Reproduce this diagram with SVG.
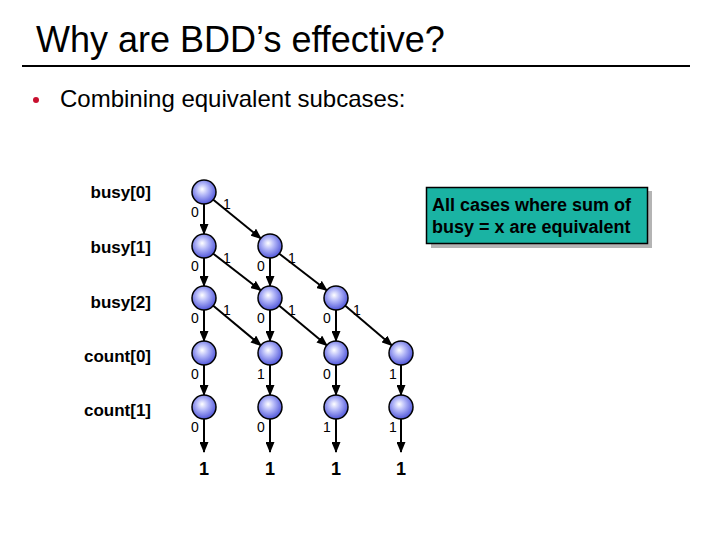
<svg xmlns="http://www.w3.org/2000/svg" width="720" height="540" viewBox="0 0 720 540">
<style>
.t{font-family:"Liberation Sans",Arial,sans-serif;fill:#000}
.var{font-size:17px;font-weight:bold;text-anchor:end}
.lb{font-size:14px;text-anchor:middle}
.term{font-size:18px;font-weight:bold;text-anchor:middle}
.node{fill:url(#g);stroke:#000;stroke-width:1.5}
.e{stroke:#000;stroke-width:2;fill:none;marker-end:url(#ah)}
.box{font-size:18px;font-weight:bold}
</style>
<defs>
<radialGradient id="g" cx="0.45" cy="0.42" r="0.6" fx="0.42" fy="0.38">
<stop offset="0" stop-color="#ffffff"/>
<stop offset="0.4" stop-color="#b4b8f8"/>
<stop offset="1" stop-color="#4c52d8"/>
</radialGradient>
<marker id="ah" markerUnits="userSpaceOnUse" markerWidth="11" markerHeight="9" refX="10" refY="4.5" orient="auto">
<path d="M0,0 L11,4.5 L0,9 z" fill="#000"/>
</marker>
</defs>
<rect width="720" height="540" fill="#fff"/>
<text class="t" x="36" y="52" font-size="36">Why are BDD’s effective?</text>
<line x1="22" y1="66" x2="690" y2="66" stroke="#000" stroke-width="2"/>
<circle cx="36" cy="100" r="3" fill="#c8102e"/>
<text class="t" x="60" y="107" font-size="24">Combining equivalent subcases:</text>

<g id="labels">
<text class="t var" x="151" y="198">busy[0]</text>
<text class="t var" x="151" y="253">busy[1]</text>
<text class="t var" x="151" y="308">busy[2]</text>
<text class="t var" x="151" y="362">count[0]</text>
<text class="t var" x="151" y="416">count[1]</text>
</g>

<g id="connectors">
<line class="e" x1="204" y1="204" x2="204" y2="234"/>
<line class="e" x1="213" y1="199.5" x2="261" y2="238.5"/>
<line class="e" x1="204" y1="258" x2="204" y2="286"/>
<line class="e" x1="213" y1="253.5" x2="261" y2="290.5"/>
<line class="e" x1="270" y1="258" x2="270" y2="286"/>
<line class="e" x1="279" y1="253.5" x2="327" y2="290.5"/>
<line class="e" x1="204" y1="310" x2="204" y2="341"/>
<line class="e" x1="213" y1="305.5" x2="261" y2="345.5"/>
<line class="e" x1="270" y1="310" x2="270" y2="341"/>
<line class="e" x1="279" y1="305.5" x2="327" y2="345.5"/>
<line class="e" x1="336" y1="310" x2="336" y2="341"/>
<line class="e" x1="345" y1="305.5" x2="392" y2="345.5"/>
<line class="e" x1="204" y1="365" x2="204" y2="395"/>
<line class="e" x1="270" y1="365" x2="270" y2="395"/>
<line class="e" x1="336" y1="365" x2="336" y2="395"/>
<line class="e" x1="401" y1="365" x2="401" y2="395"/>
<line class="e" x1="204" y1="419" x2="204" y2="452"/>
<line class="e" x1="270" y1="419" x2="270" y2="452"/>
<line class="e" x1="336" y1="419" x2="336" y2="452"/>
<line class="e" x1="401" y1="419" x2="401" y2="452"/>
</g>

<g id="edge-labels">
<text class="t lb" x="195" y="217">0</text><text class="t lb" x="227" y="209">1</text>
<text class="t lb" x="195" y="271">0</text><text class="t lb" x="227" y="263">1</text>
<text class="t lb" x="261" y="271">0</text><text class="t lb" x="292" y="263">1</text>
<text class="t lb" x="195" y="323">0</text><text class="t lb" x="227" y="315">1</text>
<text class="t lb" x="261" y="323">0</text><text class="t lb" x="292" y="315">1</text>
<text class="t lb" x="327" y="323">0</text><text class="t lb" x="357" y="315">1</text>
<text class="t lb" x="195" y="379">0</text><text class="t lb" x="261" y="379">1</text>
<text class="t lb" x="327" y="379">0</text><text class="t lb" x="393" y="379">1</text>
<text class="t lb" x="195" y="432">0</text><text class="t lb" x="261" y="432">0</text>
<text class="t lb" x="327" y="432">1</text><text class="t lb" x="393" y="432">1</text>
</g>

<g id="n-b0-0"><circle class="node" cx="204" cy="192" r="12"/></g>
<g id="n-b1-0"><circle class="node" cx="204" cy="246" r="12"/></g>
<g id="n-b1-1"><circle class="node" cx="270" cy="246" r="12"/></g>
<g id="n-b2-0"><circle class="node" cx="204" cy="298" r="12"/></g>
<g id="n-b2-1"><circle class="node" cx="270" cy="298" r="12"/></g>
<g id="n-b2-2"><circle class="node" cx="336" cy="298" r="12"/></g>
<g id="n-c0-0"><circle class="node" cx="204" cy="353" r="12"/></g>
<g id="n-c0-1"><circle class="node" cx="270" cy="353" r="12"/></g>
<g id="n-c0-2"><circle class="node" cx="336" cy="353" r="12"/></g>
<g id="n-c0-3"><circle class="node" cx="401" cy="353" r="12"/></g>
<g id="n-c1-0"><circle class="node" cx="204" cy="407" r="12"/></g>
<g id="n-c1-1"><circle class="node" cx="270" cy="407" r="12"/></g>
<g id="n-c1-2"><circle class="node" cx="336" cy="407" r="12"/></g>
<g id="n-c1-3"><circle class="node" cx="401" cy="407" r="12"/></g>

<g id="terminals">
<text class="t term" x="204" y="475">1</text>
<text class="t term" x="270" y="475">1</text>
<text class="t term" x="336" y="475">1</text>
<text class="t term" x="401" y="475">1</text>
</g>

<g id="note">
<rect x="431" y="191" width="221" height="57" fill="#b4b4b4"/>
<rect x="426.5" y="187.5" width="221" height="56" fill="#1ab3a3" stroke="#000" stroke-width="1.5"/>
<text class="t box" x="432" y="211">All cases where sum of</text>
<text class="t box" x="432" y="233">busy = x are equivalent</text>
</g>
</svg>
